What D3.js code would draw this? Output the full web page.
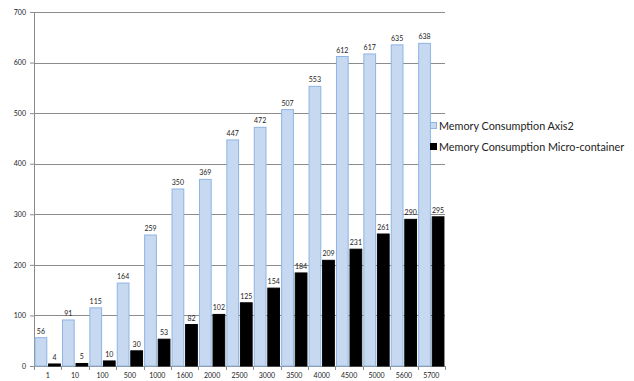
<!DOCTYPE html>
<html>
<head>
<meta charset="utf-8">
<script src="https://cdn.jsdelivr.net/npm/d3@7"></script>
<style>
  body { margin: 0; background: #fff; }
  svg text { font-family: Lato, "Liberation Sans", sans-serif; }
</style>
</head>
<body>
<div id="chart"></div>
<script>
// categories (requests) and the two memory series
const categories = ["1", "10", "100", "500", "1000", "1600", "2000", "2500", "3000", "3500", "4000", "4500", "5000", "5600", "5700"];
const axis2 = [56, 91, 115, 164, 259, 350, 369, 447, 472, 507, 553, 612, 617, 635, 638];
const micro = [4, 5, 10, 30, 53, 82, 102, 125, 154, 184, 209, 231, 261, 290, 295];
const yTicks = [0, 100, 200, 300, 400, 500, 600, 700];
const seriesNames = ["Memory Consumption Axis2", "Memory Consumption Micro-container"];

const width = 634, height = 381;
const margin = {top: 12, right: 189, bottom: 15, left: 34};
const innerW = width - margin.left - margin.right,
      innerH = height - margin.top - margin.bottom;

const svg = d3.select("#chart").append("svg")
    .attr("width", width)
    .attr("height", height);

const g = svg.append("g")
    .attr("transform", `translate(${margin.left},${margin.top})`);

const x = d3.scaleBand().domain(categories).range([0, innerW]).paddingInner(0.04).paddingOuter(0.02);
const xSub = d3.scaleBand().domain([0, 1]).range([0, x.bandwidth()]).paddingInner(0.06);
const y = d3.scaleLinear().domain([0, 700]).range([innerH, 0]);

// gridlines
g.selectAll(".grid").data(yTicks.slice(1)).join("line")
    .attr("x1", 0).attr("x2", innerW)
    .attr("y1", d => Math.round(y(d)) + 0.5).attr("y2", d => Math.round(y(d)) + 0.5)
    .attr("stroke", "#8c8c8c").attr("stroke-width", 1);

// y axis
const yAxis = g.append("g").call(d3.axisLeft(y).tickValues(yTicks).tickSize(4).tickPadding(4));
yAxis.select(".domain").attr("stroke", "#8c8c8c");
yAxis.selectAll(".tick line").attr("stroke", "#8c8c8c");
yAxis.selectAll("text").attr("font-size", 7).attr("fill", "#222");

// x axis - ticks sit on category boundaries
const xAxis = g.append("g").attr("transform", `translate(0,${innerH})`)
    .call(d3.axisBottom(x).tickSize(0).tickPadding(7));
xAxis.select(".domain").attr("stroke", "#8c8c8c");
xAxis.selectAll("text").attr("font-size", 7).attr("fill", "#222");
g.append("g").selectAll("line").data(d3.range(categories.length + 1)).join("line")
    .attr("x1", i => Math.round(i * innerW / categories.length) + 0.5)
    .attr("x2", i => Math.round(i * innerW / categories.length) + 0.5)
    .attr("y1", innerH).attr("y2", innerH + 4)
    .attr("stroke", "#8c8c8c");

// bars
const rows = categories.map((c, i) => ({cat: c, vals: [axis2[i], micro[i]]}));
const fills = ["#c6d9f1", "#000000"];
const strokes = ["#8eb4e3", "#000000"];

const groups = g.selectAll(".cat").data(rows).join("g")
    .attr("transform", d => `translate(${x(d.cat)},0)`);

groups.selectAll("rect").data(d => d.vals.map((v, k) => ({k, v}))).join("rect")
    .attr("x", d => xSub(d.k) + 0.5)
    .attr("y", d => y(d.v))
    .attr("width", xSub.bandwidth() - 1)
    .attr("height", d => innerH - y(d.v))
    .attr("fill", d => fills[d.k])
    .attr("stroke", d => strokes[d.k])
    .attr("stroke-width", 1);

groups.selectAll(".lbl").data(d => d.vals.map((v, k) => ({k, v}))).join("text")
    .attr("x", d => xSub(d.k) + xSub.bandwidth() / 2)
    .attr("y", d => y(d.v) - 4)
    .attr("text-anchor", "middle")
    .attr("font-size", 7)
    .attr("fill", "#222")
    .text(d => d.v);

// legend
const legend = svg.append("g").attr("transform", "translate(430,122)");
legend.selectAll("g").data(seriesNames).join("g")
    .attr("transform", (d, i) => `translate(0,${i * 21})`)
    .each(function(d, i) {
        const s = d3.select(this);
        s.append("rect").attr("x", 0.5).attr("y", 0.5).attr("width", 6).attr("height", 6)
            .attr("fill", fills[i]).attr("stroke", strokes[i]);
        s.append("text").attr("x", 9).attr("y", 7.5).attr("font-size", 10.8)
            .attr("fill", "#222").text(d);
    });
</script>
</body>
</html>
